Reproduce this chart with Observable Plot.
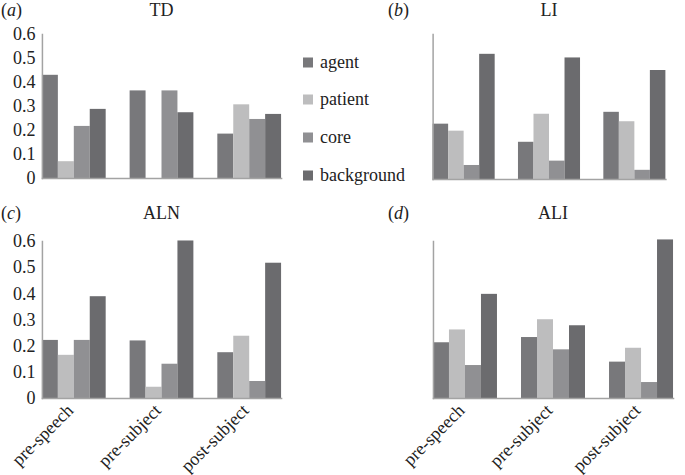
<!DOCTYPE html>
<html><head><meta charset="utf-8">
<script src="https://cdn.jsdelivr.net/npm/d3@7"></script>
<script src="https://cdn.jsdelivr.net/npm/@observablehq/plot@0.6"></script>
<style>
html,body{margin:0;padding:0;background:#fff;}
#root{position:relative;width:685px;height:475px;overflow:hidden;font-family:'Liberation Serif','Times New Roman',serif;color:#222;}
.panel{position:absolute;}
.title{position:absolute;font-family:'Liberation Serif',serif;font-size:18px;line-height:18px;transform:translate(-50%,-50%);white-space:nowrap;}
.tag{position:absolute;font-family:'Liberation Serif',serif;font-size:18px;line-height:18px;transform:translateY(-50%);white-space:nowrap;}
.legend{position:absolute;left:303px;top:0;font-family:'Liberation Serif',serif;font-size:18px;}
.legend .row{position:absolute;left:0;display:flex;align-items:center;white-space:nowrap;transform:translateY(-50%);}
.legend .sw{width:10px;height:10px;margin-right:7px;}
</style>
</head><body>
<div id="root"></div>
<script>
const categories = ["pre-speech", "pre-subject", "post-subject"];
const series = ["agent", "patient", "core", "background"];
const colors = ["#78787b", "#bdbdbe", "#909093", "#6b6b6e"];
const yTicks = [0, 0.1, 0.2, 0.3, 0.4, 0.5, 0.6];

// values per category, in series order: agent, patient, core, background
const tdPreSpeech = [0.43, 0.07, 0.217, 0.288];
const tdPreSubject = [0.365, 0, 0.365, 0.274];
const tdPostSubject = [0.185, 0.307, 0.246, 0.267];

const liPreSpeech = [0.229, 0.2, 0.058, 0.518];
const liPreSubject = [0.154, 0.27, 0.076, 0.503];
const liPostSubject = [0.278, 0.239, 0.038, 0.451];

const alnPreSpeech = [0.222, 0.165, 0.222, 0.389];
const alnPreSubject = [0.22, 0.043, 0.131, 0.602];
const alnPostSubject = [0.175, 0.238, 0.065, 0.517];

const aliPreSpeech = [0.213, 0.262, 0.126, 0.398];
const aliPreSubject = [0.233, 0.301, 0.186, 0.278];
const aliPostSubject = [0.139, 0.192, 0.061, 0.606];

function table(groups) {
  const rows = [];
  groups.forEach((vals, i) => vals.forEach((v, j) => rows.push({cat: categories[i], series: series[j], value: v})));
  return rows;
}

const root = document.getElementById("root");

function addPanel(o) {
  const marks = [
    Plot.barY(o.data, {fx: "cat", x: "series", y: "value", fill: "series"}),
    Plot.frame({anchor: "left", facet: "super", stroke: "#a3a3a3", strokeWidth: 1.5}),
    Plot.frame({anchor: "bottom", facet: "super", stroke: "#a3a3a3", strokeWidth: 1.5})
  ];
  if (o.yLabels) marks.push(Plot.axisY({ticks: yTicks, tickSize: 0, tickPadding: 7, label: null,
    tickFormat: d => d === 0 ? "0" : d.toFixed(1), fontSize: 18}));
  if (o.xLabels) marks.push(Plot.text(categories, {fx: d => d, text: d => d, frameAnchor: "bottom",
    rotate: -45, textAnchor: "end", lineAnchor: "middle", dx: -4, dy: 9, fontSize: 18, fill: "#222"}));
  const chart = Plot.plot({
    width: o.width, height: o.height,
    marginLeft: o.ml, marginRight: o.mr, marginTop: o.mt, marginBottom: o.mb,
    style: {fontFamily: "'Liberation Serif', serif", fontSize: "18px", color: "#222", background: "transparent", overflow: "visible"},
    fx: {domain: categories, paddingInner: 0.273, paddingOuter: 0.136, round: false, label: null, axis: null},
    x: {domain: series, padding: 0, round: false, axis: null},
    y: {domain: [0, 0.6], axis: null},
    color: {domain: series, range: colors},
    marks
  });
  const wrap = document.createElement("div");
  wrap.className = "panel";
  wrap.style.left = o.left + "px";
  wrap.style.top = o.top + "px";
  wrap.appendChild(chart);
  root.appendChild(wrap);

  const t = document.createElement("div");
  t.className = "title";
  t.textContent = o.title;
  t.style.left = (o.left + o.ml + (o.width - o.ml - o.mr) / 2) + "px";
  t.style.top = o.titleY + "px";
  root.appendChild(t);

  const g = document.createElement("div");
  g.className = "tag";
  g.innerHTML = "(<i>" + o.tag + "</i>)";
  g.style.left = o.tagX + "px";
  g.style.top = o.titleY + "px";
  root.appendChild(g);
}

addPanel({data: table([tdPreSpeech, tdPreSubject, tdPostSubject]), title: "TD", tag: "a",
  left: 0, top: 0, width: 300, height: 200, ml: 30, mr: 7, mt: 34, mb: 22,
  yLabels: true, xLabels: false, titleY: 10, tagX: 1});
addPanel({data: table([liPreSpeech, liPreSubject, liPostSubject]), title: "LI", tag: "b",
  left: 380, top: 0, width: 305, height: 200, ml: 41, mr: 8, mt: 34, mb: 21,
  yLabels: false, xLabels: false, titleY: 10, tagX: 388});
addPanel({data: table([alnPreSpeech, alnPreSubject, alnPostSubject]), title: "ALN", tag: "c",
  left: 0, top: 200, width: 300, height: 275, ml: 30, mr: 7, mt: 41, mb: 77,
  yLabels: true, xLabels: true, titleY: 213, tagX: 1});
addPanel({data: table([aliPreSpeech, aliPreSubject, aliPostSubject]), title: "ALI", tag: "d",
  left: 380, top: 200, width: 305, height: 275, ml: 41, mr: 0, mt: 41, mb: 77,
  yLabels: false, xLabels: true, titleY: 213, tagX: 388});

// legend
const legend = document.createElement("div");
legend.className = "legend";
const rowY = [62, 99, 137, 175];
series.forEach((s, i) => {
  const r = document.createElement("div");
  r.className = "row";
  r.style.top = rowY[i] + "px";
  r.innerHTML = `<span class="sw" style="background:${colors[i]}"></span><span>${s}</span>`;
  legend.appendChild(r);
});
root.appendChild(legend);
</script>
</body></html>
